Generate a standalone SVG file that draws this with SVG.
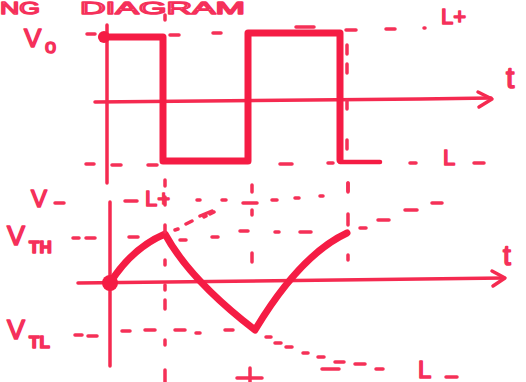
<svg xmlns="http://www.w3.org/2000/svg" width="526" height="382" viewBox="0 0 526 382">
<style>
.thin{fill:none;stroke:#f52a50;stroke-width:3.5;stroke-linecap:round;stroke-linejoin:round}
.thick{fill:none;stroke:#f51c44;stroke-width:7;stroke-linecap:round;stroke-linejoin:round}
.dash{fill:none;stroke:#f53057;stroke-width:3.5;stroke-linecap:round}
.lbl{font-family:"Liberation Sans",Arial,sans-serif;fill:#f5305a;stroke:#f5305a;stroke-width:1.6;stroke-linejoin:round}
.ttl{font-family:"Liberation Sans",Arial,sans-serif;fill:#fff;stroke:#f5305a;stroke-width:1.4;stroke-linejoin:round}
</style>
<rect width="526" height="382" fill="#fff"/>
<g id="title">
<text class="ttl" x="0" y="14" font-size="17" textLength="40" lengthAdjust="spacingAndGlyphs">NG</text>
<text class="ttl" x="80" y="14" font-size="17" textLength="165" lengthAdjust="spacingAndGlyphs">DIAGRAM</text>
</g>
<g id="top-graph">
<text class="lbl" x="24" y="47" font-size="26">V</text>
<text class="lbl" x="45" y="53" font-size="20">o</text>
<text class="lbl" x="441" y="24" font-size="22">L+</text>
<text class="lbl" x="506" y="88" font-size="30">t</text>
<text class="lbl" x="443" y="165" font-size="22">L</text>
<path class="dash" d="M474 163h10"/>
<path class="thin" d="M107 25V183"/>
<path class="thin" d="M95 102C200 101 350 100 491 98"/>
<path class="thin" d="M478 92L492 99L479 107"/>
<path class="thick" d="M102 37H163V161H248V33H340V160"/>
<path class="thick" d="M340 162H380" style="stroke-width:4.5"/>
<circle cx="104" cy="37" r="6" fill="#f51c44"/>
<path class="dash" d="M87 34h8M170 35h9M213 33h8M296 27h18M346 30h10M386 29h9M424 28h1M86 164h8M112 165h9M148 165h9M280 164h12M328 163h5M410 163h6M165 15v5M347 45v9M347 64v9M347 100v9M347 140v9M348 183v8M165 180v6"/>
</g>
<g id="bottom-graph">
<text class="lbl" x="31" y="207" font-size="24">V</text>
<path class="dash" d="M55 203h9"/>
<text class="lbl" x="7" y="245" font-size="27">V</text>
<text class="lbl" x="29" y="253" font-size="17" font-weight="bold">TH</text>
<text class="lbl" x="7" y="339" font-size="27">V</text>
<text class="lbl" x="29" y="348" font-size="17" font-weight="bold">TL</text>
<text class="lbl" x="145" y="206" font-size="22">L+</text>
<text class="lbl" x="503" y="265" font-size="28">t</text>
<text class="lbl" x="418" y="378" font-size="24">L</text>
<path class="dash" d="M446 377h11"/>
<path class="thin" d="M110 202V366"/>
<path class="thin" d="M78 283C250 282 400 280 504 278"/>
<path class="thin" d="M492 271L505 278L493 286"/>
<path class="thick" d="M110 283Q132 248 165 234Q190 280 255 330Q300 255 347 233"/>
<circle cx="110" cy="283" r="8" fill="#f51c44"/>
<path class="dash" d="M125 201h12M197 200h3M222 200h4M243 203h14M272 200h5M295 198h4M320 196h3M175 230l3-1M186 224l6-3M200 216l12-5M204 217l2-1M210 214l4-2M86 238h9M73 238h6M129 237h9M180 240h6M212 237h6M240 231h8M275 232h4M300 232h11M360 228h6M378 220h11M405 210h12M432 203h10M266 337h5M275 343h6M286 347h6M303 353h5M318 357h6M335 362h9M322 369h17M355 364h10M376 369h7M75 335h7M88 336h9M122 331h8M145 330h10M175 330h10M196 333h4M225 330h8M165 197v8M165 225v7M165 260v5M165 285v5M165 300v9M165 340v5M252 185v7M252 210v5M252 253v9M348 183v9M348 214v11M348 255v5M165 370v12M250 368v14M237 378h25"/>
</g>
</svg>
